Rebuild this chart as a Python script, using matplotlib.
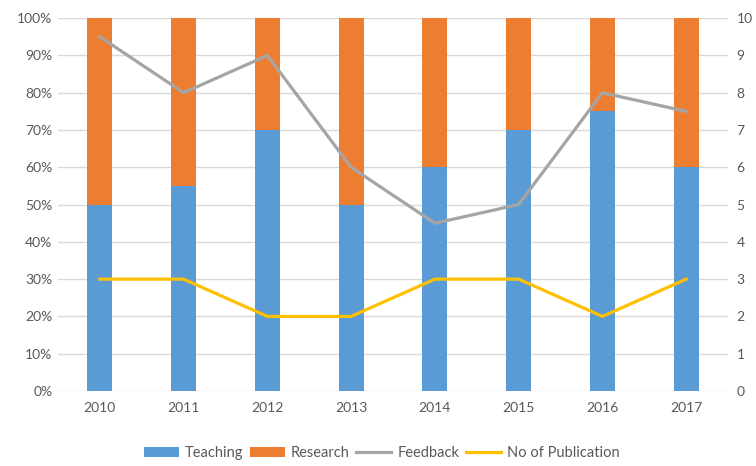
import numpy as np
import matplotlib.pyplot as plt
from matplotlib.ticker import PercentFormatter

plt.rcParams['font.family'] = ['Lato', 'DejaVu Sans']

years = ['2010', '2011', '2012', '2013', '2014', '2015', '2016', '2017']
teaching = [50, 55, 70, 50, 60, 70, 75, 60]
research = [50, 45, 30, 50, 40, 30, 25, 40]
feedback = [9.5, 8, 9, 6, 4.5, 5, 8, 7.5]
publications = [3, 3, 2, 2, 3, 3, 2, 3]

txt = '#595959'
x = np.arange(len(years))

fig = plt.figure(figsize=(7.56, 4.66), dpi=100)
ax = fig.add_axes([0.0767, 0.161, 0.8863, 0.800])
ax2 = ax.twinx()

# stacked 100% bars
ax.bar(x, teaching, width=0.3, color='#5B9BD5', label='Teaching', zorder=2)
ax.bar(x, research, width=0.3, bottom=teaching, color='#ED7D31', label='Research', zorder=2)

# lines on the secondary axis
ax2.plot(x, feedback, color='#A5A5A5', lw=2.3, label='Feedback', solid_joinstyle='round')
ax2.plot(x, publications, color='#FFC000', lw=2.3, label='No of Publication', solid_joinstyle='round')

ax.set_xlim(-0.5, len(years) - 0.5)
ax.set_ylim(0, 100)
ax.set_yticks(np.arange(0, 101, 10))
ax.yaxis.set_major_formatter(PercentFormatter(decimals=0))
ax.set_xticks(x)
ax.set_xticklabels(years)
ax2.set_ylim(0, 10)
ax2.set_yticks(range(0, 11))

ax.grid(axis='y', color='#D9D9D9', lw=1, zorder=0)
ax.set_axisbelow(True)
for a in (ax, ax2):
    for s in a.spines.values():
        s.set_visible(False)
    a.tick_params(length=0, labelsize=10, labelcolor=txt)
ax.tick_params(axis='y', pad=4)
ax.tick_params(axis='x', pad=8)
ax2.tick_params(axis='y', pad=6)

h1, l1 = ax.get_legend_handles_labels()
h2, l2 = ax2.get_legend_handles_labels()
fig.legend(h1 + h2, l1 + l2, loc='center', bbox_to_anchor=(0.505, 0.027), ncol=4,
           frameon=False, fontsize=10.5, labelcolor=txt, handlelength=2.4,
           handletextpad=0.4, columnspacing=0.45)

fig.savefig('out.png', dpi=100)
